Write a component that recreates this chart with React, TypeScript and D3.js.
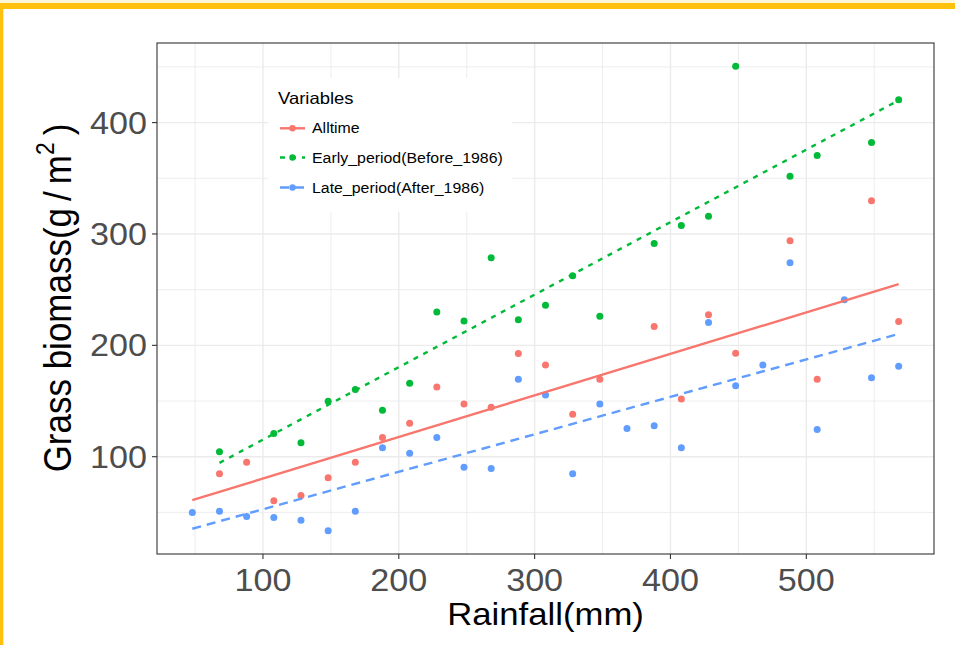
import React from 'react';
import * as d3 from 'd3';

// Rainfall classes (mm) and mean grass biomass (g/m²) for each period
const rainfall = [48, 68, 88, 108, 128, 148, 168, 188, 208, 228, 248, 268, 288, 308, 328, 348, 368, 388, 408, 428, 448, 468, 488, 508, 528, 548, 568];

const alltime = [null, 84.7, 95.1, 60.4, 65.2, 81.1, 95.1, 117.2, 130, 162.7, 147.4, 144.4, 192.6, 182.4, 138.1, 169.5, null, 217, 151.9, 227.5, 192.8, null, 293.9, 169.5, null, 329.8, 221.5];
const early = [null, 104.4, null, 120.8, 112.5, 149.8, 160.3, 141.7, 165.9, 230, 221.9, 278.7, 223, 235.9, 262.5, 226.1, null, 291.5, 307.6, 316, 450.6, null, 351.9, 370.4, null, 382.1, 420.4];
const late = [50.0, 51.1, 46.4, 45.5, 43.0, 33.5, 51.1, 108, 103.1, 117.2, 90.6, 89.4, 169.5, 155.5, 84.7, 147.4, 125.3, 127.7, 108, 220.6, 163.6, 182.4, 274.2, 124.4, 241, 170.8, 181.2];

// Linear fits (biomass = intercept + slope * rainfall) and their rainfall spans
const seriesNames = ['Alltime', 'Early_period(Before_1986)', 'Late_period(After_1986)'];
const fitIntercepts = [43.1, 50.2, 19.2];
const fitSlopes = [0.373, 0.651, 0.3363];
const fitStart = [48, 68, 48];
const fitEnd = [568, 568, 568];

const xTicks = [100, 200, 300, 400, 500];
const xMinor = [50, 150, 250, 350, 450, 550];
const yTicks = [100, 200, 300, 400];
const yMinor = [50, 150, 250, 350, 450];

const colors = ['#F8766D', '#00BA38', '#619CFF'];
const dashes = ['none', '5,6', '9,6'];
const FONT = "'Liberation Sans', Arial, Helvetica, sans-serif";
const SX = 1.12; // horizontal text stretch

export default function App() {
  const W = 955;
  const H = 645;
  const panel = { left: 157, right: 934, top: 43, bottom: 554 };

  const values = [alltime, early, late];
  const allY = values.flat().filter((v) => v != null) as number[];
  const yMin = d3.min(allY)!;
  const yMax = d3.max(allY)!;
  const yPad = (yMax - yMin) * 0.05;
  const xMin = d3.min(rainfall)!;
  const xMax = d3.max(rainfall)!;
  const xPad = (xMax - xMin) * 0.05;

  const x = d3.scaleLinear().domain([xMin - xPad, xMax + xPad]).range([panel.left, panel.right]);
  const y = d3.scaleLinear().domain([yMin - yPad, yMax + yPad]).range([panel.bottom, panel.top]);

  const fitPath = (s: number) => {
    const pts: [number, number][] = [fitStart[s], fitEnd[s]].map((r) => [
      x(r),
      y(fitIntercepts[s] + fitSlopes[s] * r),
    ]);
    return d3.line()(pts) || '';
  };

  const legend = { x: 268, y: 78, w: 244, h: 134 };
  const keyY = [128.3, 157.5, 187.5];

  return (
    <div style={{ position: 'absolute', left: 0, top: 0 }}>
      <svg width={W} height={H} style={{ display: 'block' }}>
        <rect x={0} y={0} width={W} height={H} fill="#ffffff" />
        {/* slide frame */}
        <rect x={0} y={0} width={W} height={3} fill="#FFF5D8" />
        <rect x={0} y={3} width={W} height={6} fill="#FFC10E" />
        <rect x={0} y={3} width={3.3} height={H - 3} fill="#FFC10E" />

        {/* grid */}
        <g>
          {yMinor.map((v) => (
            <line key={'ym' + v} x1={panel.left} x2={panel.right} y1={y(v)} y2={y(v)} stroke="#EBEBEB" strokeWidth={0.9} />
          ))}
          {xMinor.map((v) => (
            <line key={'xm' + v} x1={x(v)} x2={x(v)} y1={panel.top} y2={panel.bottom} stroke="#EBEBEB" strokeWidth={0.9} />
          ))}
          {yTicks.map((v) => (
            <line key={'yg' + v} x1={panel.left} x2={panel.right} y1={y(v)} y2={y(v)} stroke="#EBEBEB" strokeWidth={1.4} />
          ))}
          {xTicks.map((v) => (
            <line key={'xg' + v} x1={x(v)} x2={x(v)} y1={panel.top} y2={panel.bottom} stroke="#EBEBEB" strokeWidth={1.4} />
          ))}
        </g>

        {/* points */}
        {values.map((vals, s) => (
          <g key={'p' + s} fill={colors[s]}>
            {vals.map((v, i) =>
              v == null ? null : <circle key={i} cx={x(rainfall[i])} cy={y(v)} r={3.5} />
            )}
          </g>
        ))}

        {/* fitted lines */}
        {seriesNames.map((_, s) => (
          <path
            key={'l' + s}
            d={fitPath(s)}
            fill="none"
            stroke={colors[s]}
            strokeWidth={2.4}
            strokeDasharray={dashes[s]}
          />
        ))}

        {/* panel border */}
        <rect
          x={panel.left}
          y={panel.top}
          width={panel.right - panel.left}
          height={panel.bottom - panel.top}
          fill="none"
          stroke="#333333"
          strokeWidth={1.1}
        />

        {/* axes */}
        <g fontFamily={FONT}>
          {yTicks.map((v) => (
            <g key={'yt' + v}>
              <line x1={panel.left - 5} x2={panel.left} y1={y(v)} y2={y(v)} stroke="#333333" strokeWidth={1.1} />
              <text
                transform={`translate(${panel.left - 10},${y(v) + 11}) scale(${SX},1)`}
                textAnchor="end"
                fontSize={30.5}
                fill="#4D4D4D"
              >
                {v}
              </text>
            </g>
          ))}
          {xTicks.map((v) => (
            <g key={'xt' + v}>
              <line x1={x(v)} x2={x(v)} y1={panel.bottom} y2={panel.bottom + 5} stroke="#333333" strokeWidth={1.1} />
              <text
                transform={`translate(${x(v)},${panel.bottom + 37}) scale(${SX},1)`}
                textAnchor="middle"
                fontSize={30.5}
                fill="#4D4D4D"
              >
                {v}
              </text>
            </g>
          ))}
          <text
            transform={`translate(${(panel.left + panel.right) / 2},${625}) scale(${SX},1)`}
            textAnchor="middle"
            fontSize={31}
            fill="#000000"
          >
            Rainfall(mm)
          </text>
          <text
            transform={`translate(${71},${298}) scale(${SX},1) rotate(-90)`}
            textAnchor="middle"
            fontSize={35}
            fill="#000000"
          >
            {'Grass biomass(g\u2009/\u2009m'}
            <tspan fontSize={23} dy={-15}>2</tspan>
            <tspan dy={15}>{'\u2009)'}</tspan>
          </text>
        </g>

        {/* legend */}
        <g fontFamily={FONT}>
          <rect x={legend.x} y={legend.y} width={legend.w} height={legend.h} fill="#ffffff" />
          <text transform={`translate(278,104) scale(${SX},1)`} fontSize={16.5} fill="#000000">
            Variables
          </text>
          {seriesNames.map((name, s) => (
            <g key={'lg' + s}>
              <line
                x1={280}
                x2={305}
                y1={keyY[s]}
                y2={keyY[s]}
                stroke={colors[s]}
                strokeWidth={2.4}
                strokeDasharray={dashes[s]}
              />
              <circle cx={292.5} cy={keyY[s]} r={3.2} fill={colors[s]} />
              <text
                transform={`translate(312,${keyY[s] + 5}) scale(${SX},1)`}
                fontSize={14.2}
                fill="#000000"
              >
                {name}
              </text>
            </g>
          ))}
        </g>
      </svg>
    </div>
  );
}
